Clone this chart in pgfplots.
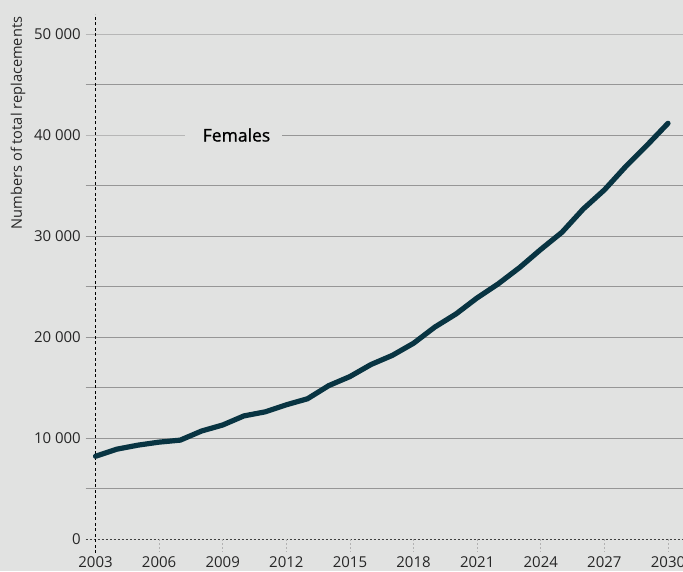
\documentclass[border=0pt]{standalone}
\usepackage{pgfplots}
\pgfplotsset{compat=1.18}
\usepackage{fontspec}
\setmainfont{Open Sans}
\newfontfamily\medfont[FakeBold=0.9]{Open Sans}
\definecolor{bg}{RGB}{225,226,225}
\definecolor{lineC}{RGB}{8,52,66}
\definecolor{gridC}{RGB}{150,150,150}
\begin{document}
\begin{tikzpicture}[x=1pt,y=1pt]
\fill[bg] (0,0) rectangle (683,571);
\begin{axis}[
  at={(95.5pt,32pt)}, anchor=south west,
  scale only axis, width=572.5pt, height=504.5pt,
  xmin=2003, xmax=2030, ymin=0, ymax=50000,
  clip=false,
  scaled y ticks=false,
  axis line style={draw=none},
  tick style={draw=none},
  xtick={2003,2006,2009,2012,2015,2018,2021,2024,2027,2030},
  xticklabels={2003,2006,2009,2012,2015,2018,2021,2024,2027,2030},
  ytick={0,10000,20000,30000,40000,50000},
  yticklabels={0,10 000,20 000,30 000,40 000,50 000},
  yticklabel style={anchor=east, inner sep=0pt, xshift=-14.5pt},
  xticklabel style={anchor=north, inner sep=0pt, yshift=-17pt},
  ticklabel style={font=\fontsize{15}{18}\selectfont, text=black!85},
]
\pgfplotsinvokeforeach{5000,10000,15000,20000,25000,30000,35000,45000}{
  \draw[gridC, line width=1pt] (axis cs:2002.53,#1) -- (axis cs:2031,#1);
}
\draw[gridC!70, line width=1pt] (axis cs:2002.53,50000) -- (axis cs:2031,50000);
\draw[gridC!70, line width=1pt] (axis cs:2002.53,40000) -- (axis cs:2007.22,40000);
\draw[gridC, line width=1pt] (axis cs:2011.80,40000) -- (axis cs:2031,40000);
\draw[black!75, line width=0.8pt, dash pattern=on 2pt off 2pt] (axis cs:2002.53,0) -- (axis cs:2031,0);
\pgfplotsinvokeforeach{2006,2009,2012,2015,2018,2021,2024,2027,2030}{
  \draw[gray!60, line width=0.8pt, dash pattern=on 2pt off 2pt] (axis cs:#1,0) -- (axis cs:#1,-1300);
}
\draw[black, line width=0.8pt, dash pattern=on 3pt off 2.5pt] (axis cs:2003,-1390) -- (axis cs:2003,52030);
\addplot[lineC, line width=5.2pt, line cap=round, line join=round] coordinates {
(2003,8200) (2004,8900) (2005,9300) (2006,9600) (2007,9800)
(2008,10700) (2009,11300) (2010,12200) (2011,12600) (2012,13300)
(2013,13900) (2014,15200) (2015,16100) (2016,17300) (2017,18200)
(2018,19400) (2019,21000) (2020,22300) (2021,23900) (2022,25300)
(2023,26900) (2024,28700) (2025,30400) (2026,32700) (2027,34600)
(2028,36900) (2029,39000) (2030,41200)
};
\end{axis}
\node[rotate=90, font=\fontsize{14.6}{16}\selectfont, text=black!85] at (18,448) {Numbers of total replacements};
\node[font=\medfont\fontsize{17.5}{20}\selectfont, text=black] at (236.5,436) {Females};
\pgfresetboundingbox
\useasboundingbox (0,0) rectangle (683,571);
\end{tikzpicture}
\end{document}
